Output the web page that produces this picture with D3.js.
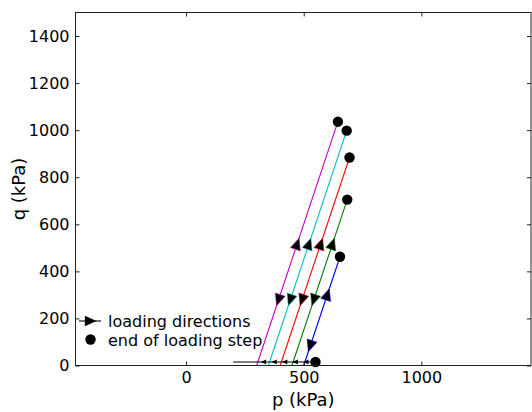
<!DOCTYPE html>
<html>
<head>
<meta charset="utf-8">
<script src="https://cdn.jsdelivr.net/npm/d3@7"></script>
<style>
body{margin:0;background:#fff;}
text{font-family:"DejaVu Sans",sans-serif;fill:#000;}
</style>
</head>
<body>
<svg id="chart" width="532" height="412"></svg>
<script>
// ---- data ----
const pathColors = ["#0000ff", "#008000", "#ff0000", "#00bfbf", "#bf00bf"];
const pStart = [500, 450, 400, 350, 300];      // kPa, start of shearing
const qEnd = [462, 705, 884, 998, 1036];         // kPa, end of loading step
const slope = 3;                                 // dq/dp
const consolP = [200, 550];                      // horizontal path p range
const consolQ = 15;
const consolEnd = [550, 15];
const consolArrowsP = [330, 375, 420, 465, 510];
// direction markers: [pathIndex, q, dir] dir=+1 up, -1 down
const dirMarkers = [
  [0, 85, -1], [0, 300, 1],
  [1, 280, -1], [2, 280, -1], [3, 280, -1], [4, 280, -1],
  [1, 515, 1], [2, 515, 1], [3, 515, 1], [4, 515, 1]
];
const xTicks = [0, 500, 1000];
const yTicks = [0, 200, 400, 600, 800, 1000, 1200, 1400];

// ---- layout ----
const svg = d3.select("#chart");
const L = 75.5, R = 531, T = 12.5, B = 365.5;
const x = d3.scaleLinear().domain([-470, 1466]).range([L, R]);
const y = d3.scaleLinear().domain([0, 1500]).range([B, T]);

// lines
const g = svg.append("g");
pStart.forEach((p0, i) => {
  g.append("line")
    .attr("x1", x(p0)).attr("y1", y(0))
    .attr("x2", x(p0 + qEnd[i] / slope)).attr("y2", y(qEnd[i]))
    .attr("stroke", pathColors[i]).attr("stroke-width", 1.1);
});
g.append("line")
  .attr("x1", x(consolP[0])).attr("y1", y(consolQ))
  .attr("x2", x(consolP[1])).attr("y2", y(consolQ))
  .attr("stroke", "#000").attr("stroke-width", 1.1);

// triangle marker generator: tip pointing at angle (deg)
function tri(cx, cy, ang, s) {
  return g.append("path")
    .attr("d", `M${s},0 L${-s*0.8},${-s*0.8} L${-s*0.8},${s*0.8} Z`)
    .attr("transform", `translate(${cx},${cy}) rotate(${ang})`)
    .attr("fill", "#000");
}
const upAng = Math.atan2(y(slope) - y(0), x(1) - x(0)) * 180 / Math.PI;
dirMarkers.forEach(([i, q, d]) => {
  const p = pStart[i] + q / slope;
  tri(x(p), y(q), d > 0 ? upAng : upAng + 180, 6.5)
    .attr("stroke", pathColors[i]).attr("stroke-width", 0.5);
});
consolArrowsP.forEach(p => tri(x(p), y(consolQ), 180, 3));

// end dots
pStart.forEach((p0, i) => {
  g.append("circle").attr("cx", x(p0 + qEnd[i] / slope)).attr("cy", y(qEnd[i]))
    .attr("r", 5.2).attr("fill", "#000");
});
g.append("circle").attr("cx", x(consolEnd[0])).attr("cy", y(consolEnd[1]))
  .attr("r", 5.2).attr("fill", "#000");

// frame
svg.append("rect").attr("x", L).attr("y", T).attr("width", R - L).attr("height", B - T)
  .attr("fill", "none").attr("stroke", "#222").attr("stroke-width", 1);

// axes with inward ticks
const xb = svg.append("g").attr("transform", `translate(0,${B})`)
  .call(d3.axisBottom(x).tickValues(xTicks).tickSize(-4).tickPadding(6).tickFormat(d3.format("d")));
const xt = svg.append("g").attr("transform", `translate(0,${T})`)
  .call(d3.axisTop(x).tickValues(xTicks).tickSize(-4).tickFormat(""));
const yl = svg.append("g").attr("transform", `translate(${L},0)`)
  .call(d3.axisLeft(y).tickValues(yTicks).tickSize(-4).tickPadding(6).tickFormat(d3.format("d")));
const yr = svg.append("g").attr("transform", `translate(${R},0)`)
  .call(d3.axisRight(y).tickValues(yTicks).tickSize(-4).tickFormat(""));
[xb, xt, yl, yr].forEach(a => {
  a.select(".domain").remove();
  a.selectAll("line").attr("stroke", "#222");
  a.selectAll("text").style("font-family", "DejaVu Sans").style("font-size", "16px").attr("fill", "#000");
});

// axis labels
svg.append("text").attr("x", (L + R) / 2).attr("y", 406).attr("text-anchor", "middle")
  .style("font-size", "18px").text("p (kPa)");
svg.append("text").attr("transform", `translate(25,${(T + B) / 2}) rotate(-90)`)
  .attr("text-anchor", "middle").style("font-size", "18px").text("q (kPa)");

// legend
const lg = svg.append("g");
lg.append("line").attr("x1", 79).attr("x2", 101).attr("y1", 321).attr("y2", 321)
  .attr("stroke", "#000").attr("stroke-width", 1.1);
lg.append("path").attr("d", "M6.5,0 L-5.2,-5.2 L-5.2,5.2 Z")
  .attr("transform", "translate(90,321)").attr("fill", "#000");
lg.append("circle").attr("cx", 90.5).attr("cy", 339.5).attr("r", 5.2).attr("fill", "#000");
lg.append("text").attr("x", 108).attr("y", 327).style("font-size", "16px").text("loading directions");
lg.append("text").attr("x", 108).attr("y", 345.5).style("font-size", "16px").text("end of loading step");
</script>
</body>
</html>
